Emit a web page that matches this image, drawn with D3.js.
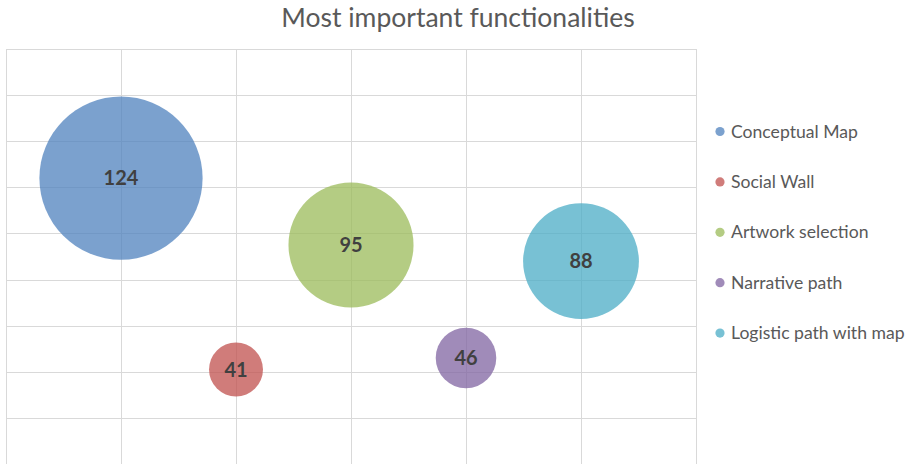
<!DOCTYPE html>
<html>
<head>
<meta charset="utf-8">
<script src="https://cdn.jsdelivr.net/npm/d3@7"></script>
<style>
  html, body { margin: 0; padding: 0; background: #fff; }
  svg { display: block; }
</style>
</head>
<body>
<svg id="chart" width="914" height="464"></svg>
<script>
// Functionalities, their position on the x axis and the number of votes
const categories = ["Conceptual Map", "Social Wall", "Artwork selection", "Narrative path", "Logistic path with map"];
const xPositions = [1, 2, 3, 4, 5];
const votes = [124, 41, 95, 46, 88];
const colors = ["#4F81BD", "#C0504D", "#9BBB59", "#8064A2", "#4BACC6"];
const yTicks = [0, 20, 40, 60, 80, 100, 120, 140, 160, 180];
const xTicks = [0, 1, 2, 3, 4, 5, 6];

const svg = d3.select("#chart");
const plot = { left: 6, right: 696, top: 49, bottom: 464 };

const x = d3.scaleLinear().domain([0, 6]).range([plot.left, plot.right]);
const y = d3.scaleLinear().domain([0, 180]).range([plot.bottom, plot.top]);
const r = d3.scaleLinear().domain([0, d3.max(votes)]).range([0, 81.6]);

// Title
svg.append("text")
  .attr("x", 458).attr("y", 27)
  .attr("text-anchor", "middle")
  .attr("font-family", "Lato, 'Open Sans', sans-serif")
  .attr("font-size", 26.5)
  .attr("fill", "#595959")
  .text("Most important functionalities");

// Gridlines
const grid = svg.append("g").attr("stroke", "#D9D9D9").attr("stroke-width", 1);
grid.selectAll("line.h").data(yTicks).join("line")
  .attr("class", "h")
  .attr("x1", plot.left).attr("x2", plot.right)
  .attr("y1", d => Math.round(y(d)) + 0.5).attr("y2", d => Math.round(y(d)) + 0.5);
grid.selectAll("line.v").data(xTicks).join("line")
  .attr("class", "v")
  .attr("y1", plot.top).attr("y2", plot.bottom)
  .attr("x1", d => Math.round(x(d)) + 0.5).attr("x2", d => Math.round(x(d)) + 0.5);

const data = categories.map((c, i) => ({ name: c, x: xPositions[i], v: votes[i], color: colors[i] }));

// Bubbles, sized by value
const bubbles = svg.append("g");
bubbles.selectAll("circle").data(data).join("circle")
  .attr("cx", d => x(d.x))
  .attr("cy", d => y(d.v))
  .attr("r", d => r(d.v))
  .attr("fill", d => d.color)
  .attr("fill-opacity", 0.75);

bubbles.selectAll("text").data(data).join("text")
  .attr("x", d => x(d.x))
  .attr("y", d => y(d.v))
  .attr("dy", "0.36em")
  .attr("text-anchor", "middle")
  .attr("font-family", "Lato, 'Open Sans', sans-serif")
  .attr("font-weight", "bold")
  .attr("font-size", 20)
  .attr("fill", "#404040")
  .text(d => d.v);

// Legend
const legend = svg.append("g").attr("transform", "translate(720,131.5)");
const rows = legend.selectAll("g").data(data).join("g")
  .attr("transform", (d, i) => `translate(0,${i * 50.4})`);
rows.append("circle").attr("r", 4.6).attr("fill", d => d.color).attr("fill-opacity", 0.75);
rows.append("text")
  .attr("x", 11).attr("dy", "0.35em")
  .attr("font-family", "Lato, 'Open Sans', sans-serif")
  .attr("font-size", 17.6)
  .attr("fill", "#595959")
  .text(d => d.name);
</script>
</body>
</html>
